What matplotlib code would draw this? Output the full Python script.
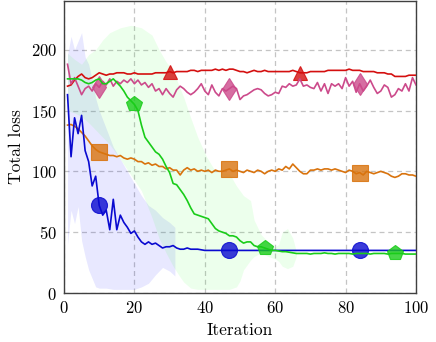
import numpy as np
import matplotlib
matplotlib.use("Agg")
import matplotlib.pyplot as plt
from matplotlib.colors import to_rgba

plt.rcParams['font.family'] = ['cmr10']
plt.rcParams['axes.formatter.use_mathtext'] = True
plt.rcParams['mathtext.fontset'] = 'cm'

iterations = list(range(1, 101))

blue = [163, 112, 144, 131, 146, 117, 108, 88, 96, 72,
        64, 68, 52, 77, 52, 64, 58, 54, 49, 51,
        46, 42, 40, 42, 40, 41, 39, 37, 38, 38,
        39, 37, 36, 36, 37, 36, 36, 36, 35.5, 35] + [35] * 60

orange = [138, 138.5, 137, 135, 132, 129, 125, 121, 118, 116,
          115, 114, 113, 113, 112, 113, 111, 110, 111, 110,
          108, 108, 106, 107, 105, 106, 104, 104, 102, 103,
          101, 101, 97, 101, 103, 101, 102, 100, 101, 100,
          101, 99, 101, 100, 100, 101, 102, 100, 101, 100,
          99, 101, 100, 99, 101, 100, 98, 100, 101, 100,
          102, 101, 104, 102, 106, 103, 100, 98, 98, 101,
          101, 102, 101, 102, 102, 101, 102, 101, 100, 99,
          101, 100, 98, 99, 97, 100, 99, 98, 99, 100,
          99, 98, 96, 95, 96, 98, 98, 97, 97, 96]

red = [170, 171, 175, 178, 180, 177, 176, 177, 179, 181,
       180, 179, 180, 180, 181, 181, 181, 180, 180, 181,
       180, 180, 180, 180, 180, 181, 181, 181, 181, 182,
       181, 182, 182, 182, 182, 183, 183, 182, 183, 183,
       183, 183, 184, 183, 184, 183, 184, 184, 183, 182,
       182, 181, 182, 183, 182, 182, 183, 182, 182, 182,
       182, 182, 182, 182, 183, 182, 181, 181, 181, 182,
       182, 182, 182, 182, 183, 183, 183, 183, 183, 183,
       184, 183, 183, 183, 182, 182, 182, 182, 181, 181,
       181, 180, 180, 178, 178, 178, 178, 179, 179, 179]

pink = [188, 172, 177, 170, 163, 168, 170, 166, 172, 169,
        174, 171, 176, 170, 174, 172, 175, 173, 176, 172,
        175, 171, 173, 169, 172, 166, 168, 163, 168, 164,
        161, 167, 170, 168, 165, 163, 165, 168, 172, 166,
        163, 171, 165, 162, 168, 166, 168, 170, 168, 159,
        162, 163, 165, 167, 168, 167, 164, 162, 163, 165,
        164, 170, 169, 172, 170, 171, 176, 170, 171, 169,
        168, 173, 166, 172, 164, 172, 170, 172, 168, 177,
        170, 174, 165, 172, 166, 170, 175, 169, 164, 166,
        171, 169, 161, 163, 168, 166, 172, 166, 177, 171]

green = [176, 176, 176, 176, 175, 173, 172, 173, 175, 176,
         172, 172, 174, 176, 173, 170, 166, 161, 158, 155,
         150, 138, 128, 124, 120, 116, 114, 110, 104, 99,
         90, 89, 85, 81, 76, 70, 65, 64, 63, 62,
         61, 57, 53, 51, 50, 49, 47, 47, 46, 43,
         41, 42, 42, 39, 38, 38, 37, 36, 35, 35,
         34.5, 34, 34, 33.5, 33, 32.5, 32.5, 32.5, 32.5, 32,
         32.5, 32.5, 32.5, 33, 32.5, 32.5, 32, 32.5, 32.5, 32.5,
         32.5, 32, 32.5, 32.5, 32.5, 32.5, 32, 32.5, 32.5, 32.5,
         32.5, 32, 32.5, 32.5, 32.5, 32.5, 32, 32, 32, 32]

# shaded spread bands
blue_band_x = [1, 2, 3, 4, 5, 6, 7, 8, 9, 10, 12, 14, 16, 18, 20, 22, 24, 26, 28, 30, 31.5]
blue_band_hi = [196, 211, 200, 207, 214, 194, 188, 175, 160, 150, 135, 120, 110, 100, 90, 80, 72, 68, 62, 58, 54]
blue_band_lo = [40, 68, 57, 71, 43, 30, 19, 12, 5, 4, 4, 3, 3, 3, 3, 5, 8, 15, 21, 18, 14]

green_band_x = [1, 3, 5, 7, 9, 11, 13, 16, 19, 22, 25, 27, 29, 31, 33, 34, 36, 38, 40.5, 43, 45, 47,
                49, 50, 51, 53, 54, 56, 58, 60, 61, 62, 63.5, 65, 66]
green_band_hi = [197, 192, 188, 196, 200, 208, 214, 218, 220, 218, 212, 200, 190, 183, 168, 161, 144, 128,
                 112, 100, 99, 98, 88, 84, 80, 76, 60, 48, 42, 38, 40, 50, 53, 45, 34]
green_band_lo = [150, 148, 145, 140, 134, 128, 122, 110, 97, 84, 62, 45, 33, 22, 13, 9, 4, 3, 3, 3, 3, 3,
                 5, 10, 19, 27, 30, 33, 30, 28, 26, 22, 20, 22, 30]

xticks = [0, 20, 40, 60, 80, 100]
yticks = [0, 50, 100, 150, 200]

c_blue = '#0a0ad0'
c_orange = '#d9730d'
c_red = '#d40f0f'
c_pink = '#cc4a8b'
c_green = '#19cc19'

fig = plt.figure(figsize=(4.36, 3.42), dpi=100)
ax = fig.add_axes([64 / 436, 49 / 342, 352 / 436, 292 / 342])

ax.fill_between(blue_band_x, blue_band_lo, blue_band_hi, color='#0000ff', alpha=0.09, lw=0)
ax.fill_between(green_band_x, green_band_lo, green_band_hi, color='#33ff33', alpha=0.09, lw=0)


def series(y, color, marker, ms, start):
    ax.plot(iterations, y, color=color, lw=1.2, zorder=3,
            marker=marker, markersize=ms, markevery=(start, 37),
            markerfacecolor=to_rgba(color, 0.8), markeredgecolor=to_rgba(color, 0.85),
            markeredgewidth=0.8)


series(red, c_red, '^', 10.5, 29)
series(pink, c_pink, 'd', 11.5, 9)
series(orange, c_orange, 's', 11, 9)
series(blue, c_blue, 'o', 11.5, 9)
series(green, c_green, 'p', 11.5, 19)

ax.set_xlim(0, 100)
ax.set_ylim(0, 240)
ax.set_xticks(xticks)
ax.set_yticks(yticks)
ax.tick_params(length=0, labelsize=12, pad=5)
ax.grid(True, color='#c4c4c4', linestyle=(0, (4, 3)), lw=0.9)
ax.set_axisbelow(True)
for s in ax.spines.values():
    s.set_color('#404040')
    s.set_linewidth(1.0)

ax.set_xlabel('Iteration', fontsize=12.5, labelpad=5)
ax.set_ylabel('Total loss', fontsize=12.5, labelpad=5)

fig.savefig('out.png', dpi=100)
